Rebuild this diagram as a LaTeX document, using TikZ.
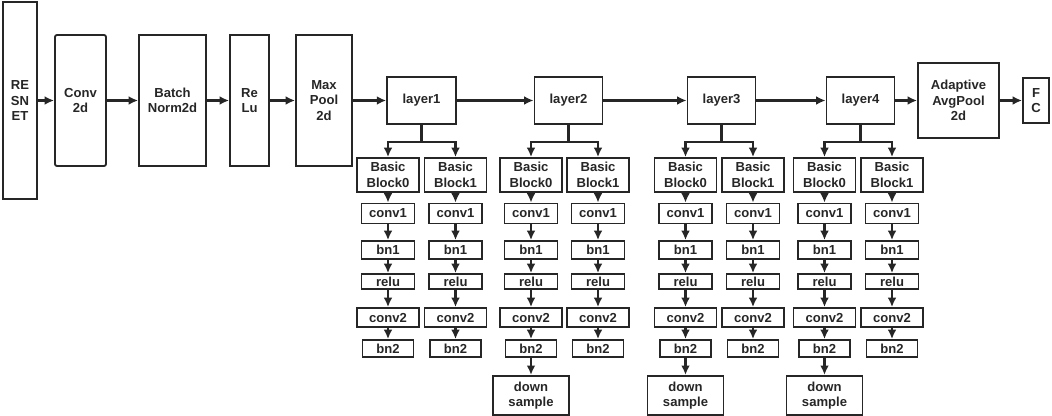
\documentclass[tikz,border=0pt]{standalone}
\usepackage{fontspec}
\setmainfont{Liberation Sans}
\usetikzlibrary{arrows.meta}
\tikzset{>={Latex[length=7pt,width=6.5pt]}}
\tikzset{
  blk/.style={draw, line width=1.4pt, inner sep=0pt, align=center,
    font=\fontsize{9.8}{11.6}\selectfont\bfseries},
  lnk/.style={->, line width=1.7pt},
}

\begin{document}
\begin{tikzpicture}[x=0.75pt, y=-0.75pt, color=black!85]
\useasboundingbox (0,0) rectangle (1052,415);

% main row
\node[blk, minimum width=25.5pt, minimum height=147.75pt] (resnet) at (20,100.5) {RE\\SN\\ET};
\node[blk, rounded corners=1.5pt, minimum width=38.25pt, minimum height=98.25pt] (conv) at (80.5,100.5) {Conv\\2d};
\node[blk, minimum width=50.25pt, minimum height=98.25pt] (bnorm) at (172.5,100.5) {Batch\\Norm2d};
\node[blk, minimum width=29.25pt, minimum height=98.25pt] (relu) at (249.5,100.5) {Re\\Lu};
\node[blk, minimum width=42pt, minimum height=98.25pt] (maxpool) at (324,100.5) {Max\\Pool\\2d};
\node[blk, minimum width=51.5pt, minimum height=35.25pt] (l1) at (421.5,100.5) {layer1};
\node[blk, minimum width=51pt, minimum height=35.25pt] (l2) at (568.5,100.5) {layer2};
\node[blk, minimum width=51pt, minimum height=35.25pt] (l3) at (721.5,100.5) {layer3};
\node[blk, minimum width=51pt, minimum height=35.25pt] (l4) at (860.5,100.5) {layer4};
\node[blk, minimum width=60.75pt, minimum height=56.25pt] (avgpool) at (958.5,100.5) {Adaptive\\AvgPool\\2d};
\node[blk, minimum width=19.5pt, minimum height=33.75pt] (fc) at (1036,100.5) {F\\C};

\draw[lnk] (resnet) -- (conv);
\draw[lnk] (conv) -- (bnorm);
\draw[lnk] (bnorm) -- (relu);
\draw[lnk] (relu) -- (maxpool);
\draw[lnk] (maxpool) -- (l1);
\draw[lnk] (l1) -- (l2);
\draw[lnk] (l2) -- (l3);
\draw[lnk] (l3) -- (l4);
\draw[lnk] (l4) -- (avgpool);
\draw[lnk] (avgpool) -- (fc);

% basic blocks
\foreach \n/\x/\k in {a/388/0, b/455.5/1, c/531/0, d/598/1, e/685.5/0, f/753/1, g/824.5/0, h/892/1} {
  \node[blk, minimum width=46.5pt, minimum height=25.5pt] (\n-bb) at (\x,175) {Basic\\Block\k};
  \node[blk, minimum width=39.75pt, minimum height=15pt] (\n-c1) at (\x,213.5) {conv1};
  \node[blk, minimum width=39.75pt, minimum height=13.5pt] (\n-b1) at (\x,250) {bn1};
  \node[blk, minimum width=39.75pt, minimum height=11.25pt] (\n-r) at (\x,281.5) {relu};
  \node[blk, minimum width=46.5pt, minimum height=14.25pt] (\n-c2) at (\x,317.5) {conv2};
  \node[blk, minimum width=38.25pt, minimum height=12.75pt] (\n-b2) at (\x,348.5) {bn2};
  \draw[lnk] (\n-bb) -- (\n-c1);
  \draw[lnk] (\n-c1) -- (\n-b1);
  \draw[lnk] (\n-b1) -- (\n-r);
  \draw[lnk] (\n-r) -- (\n-c2);
  \draw[lnk] (\n-c2) -- (\n-b2);
}

\foreach \l/\p/\q in {l1/a/b, l2/c/d, l3/e/f, l4/g/h} {
  \draw[lnk] (\l.south) -- ++(0,17) -| (\p-bb.north);
  \draw[lnk] (\l.south) -- ++(0,17) -| (\q-bb.north);
}

% down sample
\foreach \p in {c,e,g} {
  \node[blk, minimum width=57pt, minimum height=29.25pt, anchor=north, yshift=-12.75pt] (\p-ds) at (\p-b2.south) {down\\sample};
  \draw[lnk] (\p-b2) -- (\p-ds);
}

\end{tikzpicture}
\end{document}
